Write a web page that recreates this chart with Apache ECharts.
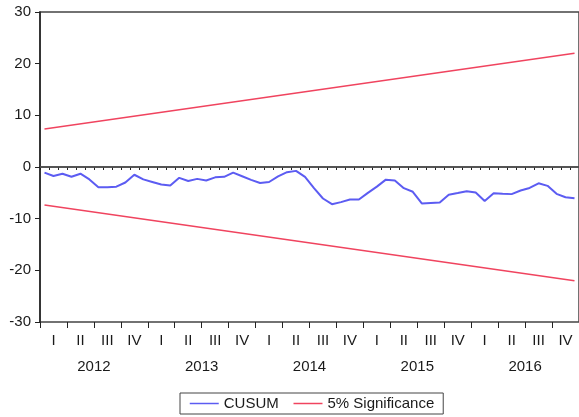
<!DOCTYPE html>
<html>
<head>
<meta charset="utf-8">
<script src="https://cdn.jsdelivr.net/npm/echarts@6/dist/echarts.min.js"></script>
<style>
  html, body { margin: 0; padding: 0; background: #fff; }
  #chart { width: 579px; height: 417px; }
</style>
</head>
<body>
<div id="chart"></div>
<script>
// Monthly CUSUM test, Jan 2012 - Dec 2016
const years = ['2012', '2013', '2014', '2015', '2016'];
const quarterNames = ['I', 'II', 'III', 'IV'];

const cusum = [
  -1.1, -1.75, -1.3, -1.9, -1.3, -2.4, -3.9, -3.9, -3.8, -3.0, -1.5, -2.4,
  -2.9, -3.4, -3.6, -2.1, -2.7, -2.3, -2.6, -2.0, -1.9, -1.1, -1.8, -2.5,
  -3.1, -2.9, -1.8, -1.0, -0.75, -1.9, -4.1, -6.1, -7.2, -6.8, -6.3, -6.3,
  -5.0, -3.8, -2.45, -2.6, -4.1, -4.8, -7.05, -6.95, -6.85, -5.35, -5.05, -4.7,
  -4.95, -6.6, -5.1, -5.2, -5.25, -4.55, -4.05, -3.15, -3.65, -5.2, -5.85, -6.05
];

// 5% significance bounds at the first and last month (straight lines)
const upperBound = [7.35, 22.0];
const lowerBound = [-7.35, -22.0];

const months = [];
const quarters = [];
years.forEach(y => {
  for (let m = 1; m <= 12; m++) months.push(y + '-' + String(m).padStart(2, '0'));
  quarterNames.forEach(q => quarters.push(q + ' ' + y));
});

function boundSeries(ends) {
  const arr = months.map(() => null);
  arr[0] = ends[0];
  arr[arr.length - 1] = ends[1];
  return arr;
}

const fontFamily = 'Liberation Sans, Arial, sans-serif';
const textStyle = { fontFamily: fontFamily, fontSize: 15, color: '#1a1a1a' };
const blue = '#5c5cf2';
const red = '#f0445f';

const chart = echarts.init(document.getElementById('chart'), null, { renderer: 'canvas' });
chart.setOption({
  animation: false,
  backgroundColor: '#fff',
  textStyle: textStyle,
  grid: {
    left: 40, top: 12, width: 540, bottom: 95,
    show: true, borderColor: '#444', borderWidth: 1.5, backgroundColor: 'transparent'
  },
  legend: {
    left: 180, top: 393,
    padding: [3, 9, 3, 9],
    itemGap: 14,
    itemWidth: 29, itemHeight: 10,
    borderColor: '#444', borderWidth: 1,
    itemStyle: { opacity: 0 },
    lineStyle: { width: 1.5 },
    textStyle: { fontFamily: fontFamily, fontSize: 15, color: '#1a1a1a' },
    data: ['CUSUM', '5% Significance']
  },
  xAxis: [
    {
      type: 'category', data: months, boundaryGap: true, position: 'bottom',
      axisLine: { show: true, lineStyle: { color: '#222', width: 1.5 } },
      axisTick: { show: true, interval: 0, length: 3, lineStyle: { color: '#222' } },
      axisLabel: { show: false },
      splitLine: { show: false }
    },
    {
      type: 'category', data: quarters, boundaryGap: true, position: 'bottom',
      axisLine: { show: false },
      axisTick: { show: true, interval: 0, length: 6, lineStyle: { color: '#222' } },
      axisLabel: {
        show: true, interval: 0, margin: 11,
        formatter: v => v.split(' ')[0],
        fontFamily: fontFamily, fontSize: 15, color: '#1a1a1a'
      },
      splitLine: { show: false }
    },
    {
      type: 'category', data: years, boundaryGap: true, position: 'bottom',
      axisLine: { show: false },
      axisTick: { show: false },
      axisLabel: {
        show: true, interval: 0, margin: 37,
        fontFamily: fontFamily, fontSize: 15, color: '#1a1a1a'
      },
      splitLine: { show: false }
    }
  ],
  yAxis: {
    type: 'value', min: -30, max: 30, interval: 10,
    axisLine: { show: true, lineStyle: { color: '#222', width: 1.5 } },
    axisTick: { show: true, length: 5, lineStyle: { color: '#222' } },
    axisLabel: { margin: 9, fontFamily: fontFamily, fontSize: 15, color: '#1a1a1a' },
    splitLine: { show: false }
  },
  series: [
    {
      name: 'CUSUM', type: 'line', xAxisIndex: 0, data: cusum,
      symbol: 'none', color: blue,
      lineStyle: { color: blue, width: 2 },
      markLine: {
        silent: true, symbol: 'none', label: { show: false },
        lineStyle: { color: '#555', width: 1.5, type: 'solid' },
        data: [{ yAxis: 0 }]
      },
      z: 3
    },
    {
      name: '5% Significance', type: 'line', xAxisIndex: 0, data: boundSeries(upperBound),
      connectNulls: true, symbol: 'none', color: red,
      lineStyle: { color: red, width: 1.5 }
    },
    {
      name: '5% Significance', type: 'line', xAxisIndex: 0, data: boundSeries(lowerBound),
      connectNulls: true, symbol: 'none', color: red,
      lineStyle: { color: red, width: 1.5 }
    }
  ]
});
</script>
</body>
</html>
